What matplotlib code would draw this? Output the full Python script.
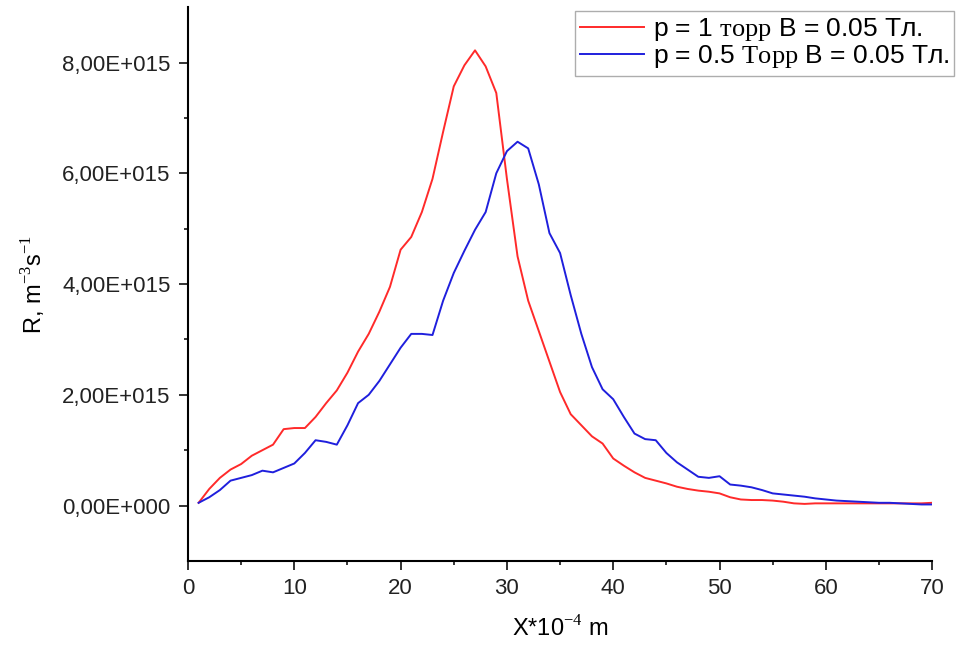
import numpy as np
import matplotlib
matplotlib.use('Agg')
import matplotlib.pyplot as plt
from matplotlib.ticker import FuncFormatter, MultipleLocator

plt.rcParams['font.family'] = ['Liberation Sans', 'DejaVu Sans']
plt.rcParams['mathtext.fontset'] = 'custom'
plt.rcParams['mathtext.rm'] = 'Liberation Serif'

# X*10^-4 m
x = np.arange(1, 71)

# R, 10^15 m^-3 s^-1, p = 1 Torr
r_p1 = [0.05, 0.30, 0.50, 0.65, 0.75, 0.90, 1.00, 1.10, 1.38, 1.40,
        1.40, 1.60, 1.85, 2.08, 2.40, 2.78, 3.10, 3.50, 3.95, 4.62,
        4.85, 5.30, 5.90, 6.75, 7.57, 7.95, 8.22, 7.93, 7.45, 5.90,
        4.50, 3.70, 3.15, 2.60, 2.05, 1.65, 1.45, 1.25, 1.12, 0.85,
        0.72, 0.60, 0.50, 0.45, 0.40, 0.34, 0.30, 0.27, 0.25, 0.22,
        0.15, 0.11, 0.10, 0.10, 0.09, 0.07, 0.04, 0.03, 0.04, 0.04,
        0.04, 0.04, 0.04, 0.04, 0.04, 0.04, 0.04, 0.04, 0.04, 0.05]

# R, 10^15 m^-3 s^-1, p = 0.5 Torr
r_p05 = [0.05, 0.15, 0.28, 0.45, 0.50, 0.55, 0.63, 0.60, 0.68, 0.76,
         0.95, 1.18, 1.15, 1.10, 1.45, 1.85, 2.00, 2.25, 2.55, 2.85,
         3.10, 3.10, 3.08, 3.70, 4.20, 4.60, 4.98, 5.30, 6.00, 6.40,
         6.57, 6.45, 5.80, 4.92, 4.56, 3.80, 3.10, 2.50, 2.10, 1.92,
         1.60, 1.30, 1.20, 1.18, 0.95, 0.78, 0.65, 0.52, 0.50, 0.53,
         0.38, 0.36, 0.33, 0.28, 0.22, 0.20, 0.18, 0.16, 0.13, 0.11,
         0.09, 0.08, 0.07, 0.06, 0.05, 0.05, 0.04, 0.03, 0.02, 0.02]

lab1 = r'p = 1 $\mathrm{торр}$ B = 0.05 Тл.'
lab2 = r'p = 0.5 $\mathrm{Торр}$ B = 0.05 Тл.'


def fmt(v, pos):
    if v == 0:
        return '0,00E+000'
    e = int(np.floor(np.log10(abs(v))))
    m = v / 10 ** e
    return ('%.2f' % m).replace('.', ',') + 'E+%03d' % e


fig = plt.figure(figsize=(9.71, 6.5), dpi=100)
ax = fig.add_axes([0.1936, 0.137, 0.7664, 0.852])

ax.plot(x, np.array(r_p1) * 1e15, color='#ff2a2a', lw=1.4, label=lab1)
ax.plot(x, np.array(r_p05) * 1e15, color='#1f1fdd', lw=1.4, label=lab2)

ax.set_xlim(0, 70)
ax.set_ylim(-1e15, 9e15)
ax.xaxis.set_major_locator(MultipleLocator(10))
ax.xaxis.set_minor_locator(MultipleLocator(5))
ax.set_yticks([0, 2e15, 4e15, 6e15, 8e15])
ax.set_yticks([1e15, 3e15, 5e15, 7e15], minor=True)
ax.yaxis.set_major_formatter(FuncFormatter(fmt))

for s in ['top', 'right']:
    ax.spines[s].set_visible(False)
for s in ['left', 'bottom']:
    ax.spines[s].set_linewidth(1.5)
ax.tick_params(which='major', direction='out', length=6.5, width=1.3,
               labelsize=16, colors='#222222', pad=6)
ax.tick_params(which='minor', direction='out', length=3, width=1.1)

ax.set_xlabel('X*10$^{-4}$ m', fontsize=17, labelpad=12)
ax.set_ylabel('R, m$^{-3}$s$^{-1}$', fontsize=17, labelpad=10)

leg = ax.legend(loc='upper left', bbox_to_anchor=(0.52, 0.993), fontsize=19,
                frameon=True, fancybox=False, edgecolor='#999999',
                handlelength=2.4, handletextpad=0.35, borderpad=0.2,
                labelspacing=0.0, borderaxespad=0)
leg.get_frame().set_linewidth(1.0)

fig.savefig('out.png', dpi=100)
